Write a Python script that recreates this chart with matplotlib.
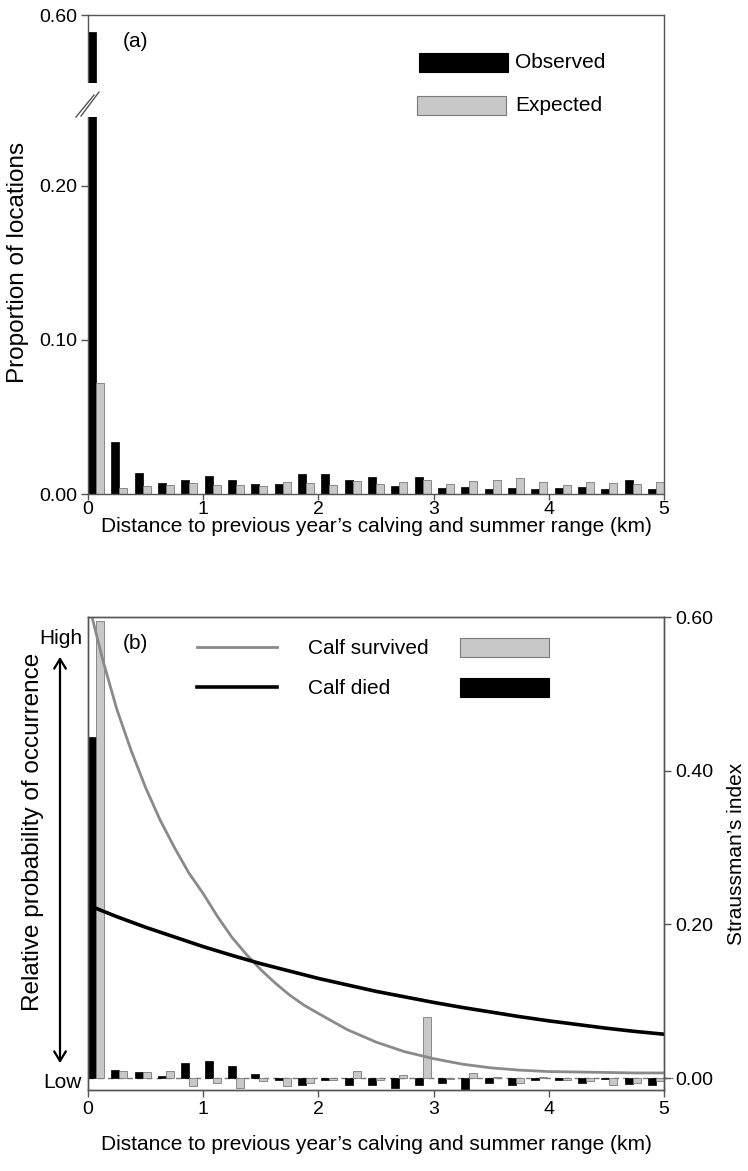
import numpy as np
import matplotlib
matplotlib.use("Agg")
import matplotlib.pyplot as plt
from matplotlib.patches import Rectangle, FancyArrowPatch
from matplotlib.lines import Line2D

plt.rcParams["font.family"] = ["Liberation Sans", "DejaVu Sans"]

W, H = 748, 1171

# ---- data -----------------------------------------------------------------
# 25 distance bins of 0.2 km, 0-5 km
observed = [0.589, 0.034, 0.0138, 0.0073, 0.0088, 0.0120, 0.0094, 0.0066, 0.0062, 0.0131,
            0.0129, 0.0092, 0.0112, 0.0051, 0.0109, 0.0042, 0.0044, 0.0034, 0.0040, 0.0031,
            0.0040, 0.0047, 0.0031, 0.0088, 0.0034]
expected = [0.072, 0.0036, 0.0051, 0.0057, 0.0073, 0.0057, 0.0057, 0.0055, 0.0077, 0.0070,
            0.0057, 0.0086, 0.0068, 0.0081, 0.0090, 0.0066, 0.0083, 0.0088, 0.0103, 0.0079,
            0.0057, 0.0075, 0.0070, 0.0066, 0.0081]

# Straussman's index per bin
calf_died = [0.444, 0.011, 0.008, 0.002, 0.019, 0.022, 0.015, 0.005, -0.003, -0.009,
             -0.003, -0.009, -0.009, -0.013, -0.009, -0.006, -0.015, -0.0065, -0.009, -0.003,
             -0.002, -0.0065, -0.001, -0.0075, -0.009]
calf_survived = [0.595, 0.0095, 0.008, 0.0085, -0.011, -0.0065, -0.013, -0.0045, -0.011, -0.0065,
                 -0.002, 0.0095, -0.002, 0.004, 0.079, -0.001, 0.006, 0.001, -0.0065, 0.001,
                 -0.003, -0.0045, -0.009, -0.0065, -0.0045]

# relative probability of occurrence (0 = low, 1 = high)
survived_km = [0.0, 0.125, 0.25, 0.375, 0.5, 0.625, 0.75, 0.875, 1.0, 1.125, 1.25, 1.375,
               1.5, 1.625, 1.75, 1.875, 2.0, 2.25, 2.5, 2.75, 3.0, 3.25, 3.5, 3.75,
               4.0, 4.25, 4.5, 4.75, 5.0]
prob_survived = [1.035, 0.91, 0.80, 0.71, 0.63, 0.56, 0.50, 0.445, 0.40, 0.35, 0.305, 0.268,
                 0.235, 0.206, 0.18, 0.158, 0.14, 0.105, 0.078, 0.057, 0.042, 0.030, 0.022, 0.017,
                 0.014, 0.013, 0.012, 0.011, 0.011]
died_km = [0.0, 0.25, 0.5, 0.75, 1.0, 1.25, 1.5, 1.75, 2.0, 2.25, 2.5,
           2.75, 3.0, 3.25, 3.5, 3.75, 4.0, 4.25, 4.5, 4.75, 5.0]
prob_died = [0.375, 0.350, 0.327, 0.306, 0.285, 0.266, 0.248, 0.232, 0.216, 0.202, 0.188,
             0.176, 0.164, 0.153, 0.143, 0.133, 0.124, 0.116, 0.108, 0.101, 0.095]

x_ticks = [0, 1, 2, 3, 4, 5]
xlabel = "Distance to previous year\u2019s calving and summer range (km)"

# ---- layout helpers ---------------------------------------------------------
BLACK = "#000000"
GREY_FILL = "#c8c8c8"
GREY_EDGE = "#7a7a7a"
GREY_LINE = "#8a8a8a"
SPINE = "#555555"
FS = 15      # legend / x label text
YFS = 17.5   # left y labels
TFS = 14     # tick labels

fig = plt.figure(figsize=(W / 100, H / 100), dpi=100)


def axes_px(l, t, r, b):
    return fig.add_axes([l / W, 1 - b / H, (r - l) / W, (b - t) / H])


def fxy(px, py):
    return px / W, 1 - py / H


bar_w = 0.07
step = (5 - 2 * bar_w) / (len(observed) - 1)
left_edges = np.arange(len(observed)) * step


def style_axes(ax):
    for s in ax.spines.values():
        s.set_color(SPINE)
        s.set_linewidth(1.0)
    ax.tick_params(direction="out", length=5, width=1, color=SPINE, labelsize=TFS, pad=3)


# ---- panel (a) --------------------------------------------------------------
LOW_TOP, GAP_TOP = 0.245, 0.556   # broken y-axis


def fwd(y):
    y = np.asarray(y, dtype=float)
    return np.where(y < LOW_TOP, y,
                    np.where(y < GAP_TOP, LOW_TOP + (y - LOW_TOP) * 0.022 / (GAP_TOP - LOW_TOP),
                             y - (GAP_TOP - LOW_TOP - 0.022)))


def inv(u):
    u = np.asarray(u, dtype=float)
    return np.where(u < LOW_TOP, u,
                    np.where(u < LOW_TOP + 0.022, LOW_TOP + (u - LOW_TOP) * (GAP_TOP - LOW_TOP) / 0.022,
                             u + (GAP_TOP - LOW_TOP - 0.022)))


ax_a = axes_px(88, 15, 664, 494)
ax_a.set_yscale("function", functions=(fwd, inv))
ax_a.bar(left_edges, observed, width=bar_w, align="edge", color=BLACK, edgecolor=BLACK, linewidth=0.5)
ax_a.bar(left_edges + bar_w, expected, width=bar_w, align="edge", color=GREY_FILL,
         edgecolor=GREY_EDGE, linewidth=0.6)
ax_a.set_xlim(0, 5)
ax_a.set_ylim(0, 0.6)
ax_a.set_xticks(x_ticks)
ax_a.set_yticks([0.0, 0.1, 0.2, 0.6])
ax_a.yaxis.set_major_formatter(plt.FormatStrFormatter("%.2f"))
ax_a.yaxis.set_minor_locator(matplotlib.ticker.NullLocator())
style_axes(ax_a)
ax_a.tick_params(axis="x", length=4, pad=1)
# hide the broken section of the first bar and the spine
ax_a.add_patch(Rectangle((-0.05, LOW_TOP), 0.16, GAP_TOP - LOW_TOP, facecolor="white",
                         edgecolor="none", clip_on=False, zorder=10))
for (x0, y0), (x1, y1) in [((76, 117), (94, 95)), ((81, 116), (99, 92))]:
    fig.add_artist(Line2D([x0 / W, x1 / W], [1 - y0 / H, 1 - y1 / H], color=SPINE,
                          linewidth=1.0, zorder=20))

ax_a.text(0.06, 0.945, "(a)", transform=ax_a.transAxes, fontsize=FS, va="center")
fig.text(*fxy(18, 262), "Proportion of locations", rotation=90, fontsize=YFS,
         ha="center", va="center")
fig.text(*fxy(376, 526), xlabel, fontsize=FS, ha="center", va="center")

# legend (a)
for (l, t, r, b), fc, ec, lab in [((419, 53, 508, 72), BLACK, BLACK, "Observed"),
                                  ((417, 96, 506, 115), GREY_FILL, GREY_EDGE, "Expected")]:
    fig.add_artist(Rectangle(fxy(l, b), (r - l) / W, (b - t) / H, facecolor=fc,
                             edgecolor=ec, linewidth=0.8, transform=fig.transFigure))
    fig.text(*fxy(515, (t + b) / 2), lab, fontsize=FS, va="center")

# ---- panel (b) --------------------------------------------------------------
ax_b = axes_px(88, 617, 664, 1090)
ax_s = ax_b.twinx()
ax_b.set_zorder(ax_s.get_zorder() + 1)
ax_b.patch.set_visible(False)

ax_s.bar(left_edges, calf_died, width=bar_w, align="edge", color=BLACK, edgecolor=BLACK,
         linewidth=0.5)
ax_s.bar(left_edges + bar_w, calf_survived, width=bar_w, align="edge", color=GREY_FILL,
         edgecolor=GREY_EDGE, linewidth=0.6)
ax_s.axhline(0, xmin=0, xmax=1.016, color="#777777", linewidth=1.0, linestyle=(0, (4, 3)),
             clip_on=False, zorder=0.5)
ax_s.set_ylim(-0.0156, 0.60)
ax_s.set_yticks([0.0, 0.2, 0.4, 0.6])
ax_s.yaxis.set_major_formatter(plt.FormatStrFormatter("%.2f"))
ax_s.set_ylabel("Straussman\u2019s index", fontsize=FS, labelpad=10)

ax_b.plot(survived_km, prob_survived, color=GREY_LINE, linewidth=2.0)
ax_b.plot(died_km, prob_died, color=BLACK, linewidth=2.6)
ax_b.set_xlim(0, 5)
ax_b.set_ylim(-0.0156 / 0.6, 1.0)
ax_b.set_xticks(x_ticks)
ax_b.set_yticks([])
for ax in (ax_b, ax_s):
    style_axes(ax)

ax_b.text(0.06, 0.945, "(b)", transform=ax_b.transAxes, fontsize=FS, va="center")
fig.text(*fxy(376, 1144), xlabel, fontsize=FS, ha="center", va="center")
fig.text(*fxy(33, 832), "Relative probability of occurrence", rotation=90, fontsize=YFS,
         ha="center", va="center")
fig.text(*fxy(82, 638), "High", fontsize=FS, ha="right", va="center")
fig.text(*fxy(82, 1083), "Low", fontsize=FS, ha="right", va="center")
fig.add_artist(FancyArrowPatch(fxy(60, 1066), fxy(60, 654), transform=fig.transFigure,
                               arrowstyle="<->,head_length=0.5,head_width=0.3",
                               mutation_scale=14, color=BLACK, linewidth=1.6))

# legend (b)
for y, lc, lw, fc, ec, lab in [(647, GREY_LINE, 2.0, GREY_FILL, GREY_EDGE, "Calf survived"),
                               (687, BLACK, 2.6, BLACK, BLACK, "Calf died")]:
    fig.add_artist(Line2D([197 / W, 277 / W], [1 - y / H, 1 - y / H], color=lc, linewidth=lw))
    fig.text(*fxy(308, y + 1), lab, fontsize=FS, va="center")
    fig.add_artist(Rectangle(fxy(460, y + 10), 89 / W, 19 / H, facecolor=fc, edgecolor=ec,
                             linewidth=0.8, transform=fig.transFigure))

fig.savefig("out.png", dpi=100)
